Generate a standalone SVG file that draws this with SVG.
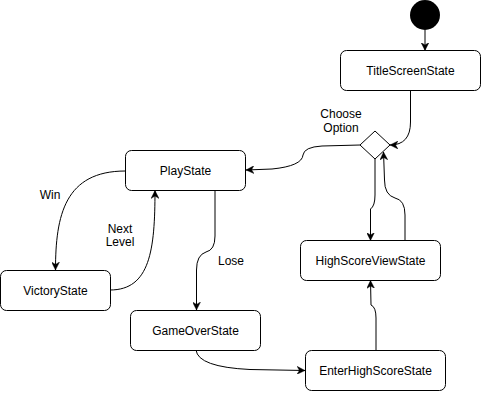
<svg xmlns="http://www.w3.org/2000/svg" width="492" height="402" viewBox="0 0 492 402">
<style>
.node rect{fill:#fff;stroke:#000;stroke-width:1}
text{font-family:"Liberation Sans",Arial,sans-serif;font-size:12px;fill:#000;text-anchor:middle;dominant-baseline:central}
.edge{fill:none;stroke:#000;stroke-width:1;marker-end:url(#arr)}
</style>
<defs>
<marker id="arr" viewBox="0 0 10 10" refX="10" refY="5" markerWidth="8" markerHeight="8" markerUnits="userSpaceOnUse" orient="auto">
<path d="M0,0 L10,5 L0,10 L3,5 Z" fill="#000" stroke="#000" stroke-width="0.5"/>
</marker>
</defs>
<rect width="492" height="402" fill="#fff"/>
<g id="connectors">
<path class="edge" d="M425 30 L425 50.5"/>
<path class="edge" d="M410.5 90 L410.5 122 Q410.5 145 390 145"/>
<path class="edge" d="M360 145 L322 146 Q304 147 303 155 Q302 166 272 169 L246 170"/>
<path class="edge" d="M125.5 171 C65 171 55.5 215 55.5 270"/>
<path class="edge" d="M110 290 C150 290 155 250 155 190.5"/>
<path class="edge" d="M215 190 L215 236 Q215 250 206 252 Q196.5 255 196.5 270 L196.5 310"/>
<path class="edge" d="M196 350 Q198 367 250 369.5 L305 370.5"/>
<path class="edge" d="M376 350 L376 318 Q376 307 371 305 L370.5 280.5"/>
<path class="edge" d="M375 159 L375 195 Q375 206 370.5 209 L370.5 240.5"/>
<path class="edge" d="M405 240 L405 215 Q405 200 395 198 Q384.5 195 384.5 180 L383.5 152"/>
</g>
<g id="start"><circle cx="425" cy="15" r="15" fill="#000"/></g>
<g id="title" class="node"><rect x="340.5" y="50.5" width="140" height="40" rx="6"/><text x="410.5" y="71">TitleScreenState</text></g>
<g id="choice"><polygon points="375,131 390,145 375,159 360,145" fill="#fff" stroke="#000"/></g>
<g id="choose-label"><text x="341" y="114">Choose</text><text x="341" y="128">Option</text></g>
<g id="play" class="node"><rect x="125.5" y="150.5" width="120" height="40" rx="6"/><text x="185.5" y="171">PlayState</text></g>
<g id="victory" class="node"><rect x="0.5" y="270.5" width="110" height="40" rx="6"/><text x="55.5" y="291">VictoryState</text></g>
<g id="gameover" class="node"><rect x="130.5" y="310.5" width="130" height="40" rx="6"/><text x="195.5" y="331">GameOverState</text></g>
<g id="enterhigh" class="node"><rect x="305.5" y="350.5" width="140" height="40" rx="6"/><text x="375.5" y="371">EnterHighScoreState</text></g>
<g id="highview" class="node"><rect x="300.5" y="240.5" width="140" height="40" rx="6"/><text x="370.5" y="261">HighScoreViewState</text></g>
<g id="labels">
<text x="50" y="195">Win</text>
<text x="120" y="229">Next</text><text x="120" y="242">Level</text>
<text x="231" y="261">Lose</text>
</g>
</svg>
